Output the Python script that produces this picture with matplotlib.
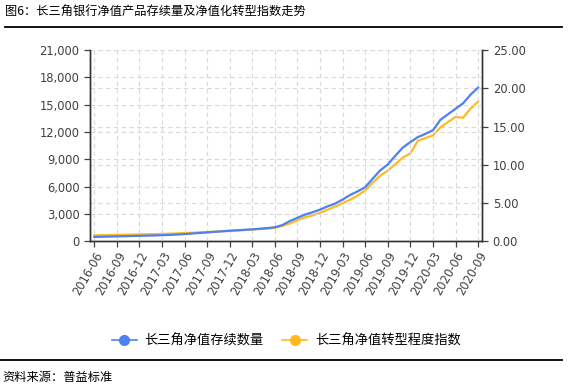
import matplotlib
matplotlib.use("Agg")
import matplotlib.pyplot as plt
from matplotlib.lines import Line2D
from matplotlib.ticker import FuncFormatter, MultipleLocator
import numpy as np

plt.rcParams["font.family"] = ["DejaVu Sans", "Noto Sans CJK SC"]
CJK = ["Noto Sans CJK SC", "DejaVu Sans"]

# ── Data ───────────────────────────────────────────────────────────────────────
months = [f"{y}-{m:02d}" for y in range(2016, 2021) for m in range(1, 13)]
months = months[months.index("2016-06"):months.index("2020-09") + 1]

# 长三角净值存续数量 (left axis)
stock = [500, 520, 540, 560, 580, 600, 620, 640, 660, 690,
         720, 760, 810, 870, 940, 1000, 1060, 1120, 1180, 1230,
         1280, 1330, 1400, 1470, 1560, 1800, 2250, 2600, 2950, 3200,
         3500, 3850, 4150, 4600, 5100, 5500, 5950, 6900, 7800, 8450,
         9400, 10300, 10900, 11450, 11800, 12200, 13350, 13950, 14550, 15150,
         16100, 16880]

# 长三角净值转型程度指数 (right axis)
index = [0.80, 0.82, 0.84, 0.86, 0.88, 0.90, 0.92, 0.94, 0.96, 0.99,
         1.02, 1.06, 1.10, 1.14, 1.18, 1.22, 1.27, 1.32, 1.38, 1.44,
         1.50, 1.56, 1.62, 1.68, 1.78, 2.05, 2.35, 2.80, 3.15, 3.40,
         3.75, 4.15, 4.55, 5.00, 5.45, 6.00, 6.65, 7.70, 8.60, 9.25,
         10.10, 10.95, 11.50, 13.15, 13.50, 13.85, 14.90, 15.60, 16.25, 16.15,
         17.35, 18.25]

BLUE = "#4E80F2"
YELLOW = "#FDBA21"
GRID = "#d9d9d9"
TICK = "#404040"

x = np.arange(len(months))

# ── Figure ─────────────────────────────────────────────────────────────────────
fig = plt.figure(figsize=(5.68, 3.86), dpi=100)
ax = fig.add_axes([0.1585, 0.3744, 0.849 - 0.1585, 0.8705 - 0.3744])
ax2 = ax.twinx()
ax.set_zorder(ax2.get_zorder() + 1)
ax.patch.set_visible(False)

ax.plot(x, stock, color=BLUE, lw=1.6, zorder=3)
ax2.plot(x, index, color=YELLOW, lw=1.6, zorder=3)

ax.set_xlim(-0.57, len(months) - 1 + 0.55)
ax.set_ylim(0, 21000)
ax2.set_ylim(0, 25)
ax.yaxis.set_major_locator(MultipleLocator(3000))
ax2.yaxis.set_major_locator(MultipleLocator(5))
ax.yaxis.set_major_formatter(FuncFormatter(lambda v, p: f"{v:,.0f}"))
ax2.yaxis.set_major_formatter(FuncFormatter(lambda v, p: f"{v:.2f}"))

qt = x[::3]
ax.set_xticks(qt)
ax.set_xticklabels([months[i] for i in qt], rotation=60, ha="right",
                   rotation_mode="anchor")

ax.grid(True, color=GRID, linestyle=(0, (4, 3)), lw=0.8)
ax2.grid(True, axis="y", color=GRID, linestyle=(0, (4, 3)), lw=0.8)
ax2.grid(True, axis="x", color=GRID, linestyle=(0, (4, 3)), lw=0.8)

for a in (ax, ax2):
    a.spines["top"].set_visible(False)
    for s in ("left", "right", "bottom"):
        a.spines[s].set_color("#333333")
        a.spines[s].set_linewidth(1.0)
    a.tick_params(colors=TICK, labelsize=8.3, length=4, width=0.9)
    for lab in a.get_xticklabels() + a.get_yticklabels():
        lab.set_color(TICK)
ax.tick_params(axis="x", pad=2)

# ── Legend ─────────────────────────────────────────────────────────────────────
handles = [
    Line2D([], [], color=BLUE, lw=1.2, marker="o", markersize=7,
           markerfacecolor=BLUE, markeredgecolor=BLUE),
    Line2D([], [], color=YELLOW, lw=1.2, marker="o", markersize=7,
           markerfacecolor=YELLOW, markeredgecolor=YELLOW),
]
fig.legend(handles, ["长三角净值存续数量", "长三角净值转型程度指数"],
           loc="center", bbox_to_anchor=(0.504, 0.1166), ncol=2,
           frameon=False, handlelength=1.9, columnspacing=1.4,
           handletextpad=0.6, prop={"family": CJK, "size": 9.5})

# ── Title / source ─────────────────────────────────────────────────────────────
fig.text(0.009, 1 - 12 / 386, "图6：长三角银行净值产品存续量及净值化转型指数走势",
         family=CJK, fontsize=8.8, color="black", va="center", ha="left")
fig.add_artist(Line2D([0.009, 0.99], [1 - 27 / 386] * 2, color="black", lw=1.3))
fig.add_artist(Line2D([0.0, 0.99], [1 - 360 / 386] * 2, color="black", lw=1.3))
fig.text(0.005, 1 - 378 / 386, "资料来源：普益标准",
         family=CJK, fontsize=8.8, color="black", va="center", ha="left")

fig.savefig("out.png", dpi=100)
